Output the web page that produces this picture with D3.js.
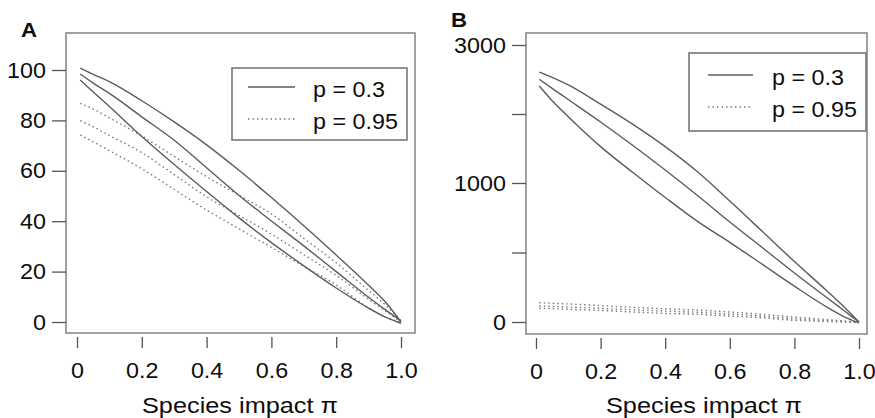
<!DOCTYPE html>
<html>
<head>
<meta charset="utf-8">
<script src="https://cdn.jsdelivr.net/npm/d3@7"></script>
<style>
  body { margin: 0; background: #fff; }
  text { font-family: "Liberation Sans", Arial, sans-serif; fill: #0d0d0d; }
</style>
</head>
<body>
<svg id="chart" width="875" height="418"></svg>
<script>
// species impact (x) shared by every curve
const impact = [0.01, 0.05, 0.1, 0.2, 0.3, 0.4, 0.5, 0.6, 0.7, 0.8, 0.9, 0.95, 1.0];

// panel A, p = 0.3 (solid)
const aHigh03 = [100.7, 98.3, 95.4, 87.8, 79.4, 70.3, 60.2, 49.4, 38.2, 26.6, 14.6, 8.2, 0];
const aMid03 = [98.4, 94.8, 90.7, 81.4, 72.1, 61.2, 50.2, 40.1, 30.2, 20, 9.8, 5, 0.5];
const aLow03 = [96, 91.3, 85.5, 73.6, 62.5, 51.8, 41.3, 31.5, 22.3, 13.5, 5.5, 2, -0.5];
// panel A, p = 0.95 (dotted)
const aHigh95 = [86.8, 84.5, 81, 73.8, 65.7, 57.7, 50.3, 42.9, 33.2, 23.5, 12.5, 7, 0.5];
const aMid95 = [79.9, 77.5, 74, 67.2, 58.5, 49.7, 42.3, 34.9, 26.7, 18.5, 9, 4.5, 0];
const aLow95 = [74.2, 71.5, 68, 60.8, 52.6, 44.4, 37, 29.6, 22.1, 14.7, 5.6, 2, 0];

// panel B, p = 0.3 (solid)
const bHigh03 = [2608, 2532, 2421, 2143, 1849, 1527, 1162, 870, 653, 435, 225, 117, 0];
const bMid03 = [2503, 2372, 2210, 1884, 1543, 1188, 910, 719, 536, 353, 176, 88, 0];
const bLow03 = [2406, 2193, 1961, 1527, 1152, 896, 724, 573, 416, 258, 108, 43, -7];
// panel B, p = 0.95 (dotted)
const bHigh95 = [139, 135, 130, 118, 106, 95, 86, 72, 55, 35, 18, 8, 0];
const bMid95 = [115, 112, 108, 98, 88, 78, 70, 57, 42, 22, 10, 4, -3];
const bLow95 = [99, 96, 92, 83, 72, 62, 55, 43, 30, 12, 4, 0, -5];

const xTicks = [0, 0.2, 0.4, 0.6, 0.8, 1.0];
const xTickLabels = ["0", "0.2", "0.4", "0.6", "0.8", "1.0"];
const yTicksA = [0, 20, 40, 60, 80, 100];
const yTickLabelsA = ["0", "20", "40", "60", "80", "100"];
const yTicksB = [0, 500, 1000, 2000, 3000];
const yTickLabelsB = ["0", "", "1000", "", "3000"];
const legendLabels = ["p = 0.3", "p = 0.95"];
const xTitle = "Species impact \u03c0";

const stretch = "scale(1.06,1)"; // the source text is a bit wide

const svg = d3.select("#chart");

const panels = [
  {
    letter: "A", letterX: 21, letterY: 37,
    box: { x0: 66, y0: 33, x1: 415, y1: 333 },
    x: d3.scaleLinear().domain([0, 1]).range([77, 401]),
    y: d3.scaleLinear().domain([0, 100]).range([322, 70]),
    yTicks: yTicksA, yLabels: yTickLabelsA,
    solid: [aHigh03, aMid03, aLow03],
    dotted: [aHigh95, aMid95, aLow95],
    legend: { x0: 232, y0: 68, x1: 407, y1: 140, lineX0: 248, lineX1: 295, textX: 313, rows: [87, 119] },
    titleX: 240
  },
  {
    letter: "B", letterX: 451, letterY: 27,
    box: { x0: 526, y0: 33, x1: 867, y1: 334 },
    x: d3.scaleLinear().domain([0, 1]).range([536, 859]),
    // axis labelled 0 / 1000 / 3000 with evenly spaced ticks
    y: d3.scaleLinear().domain([0, 1000, 3000]).range([322, 183, 45]),
    yTicks: yTicksB, yLabels: yTickLabelsB,
    solid: [bHigh03, bMid03, bLow03],
    dotted: [bHigh95, bMid95, bLow95],
    legend: { x0: 689, y0: 53, x1: 866, y1: 131, lineX0: 708, lineX1: 753, textX: 772, rows: [75, 107] },
    titleX: 704
  }
];

const solidStyle = { stroke: "#5c5c5c", width: 1.4, dash: null };
const dottedStyle = { stroke: "#7a7a7a", width: 1.4, dash: "1.5 3" };

panels.forEach(p => drawPanel(p));

function drawPanel(p) {
  const g = svg.append("g");
  const b = p.box;

  // curves
  const line = d3.line()
    .x((d, i) => p.x(impact[i]))
    .y(d => p.y(d))
    .curve(d3.curveMonotoneX);

  p.dotted.forEach(s => drawCurve(g, line, s, dottedStyle));
  p.solid.forEach(s => drawCurve(g, line, s, solidStyle));

  // frame
  g.append("rect")
    .attr("x", b.x0).attr("y", b.y0)
    .attr("width", b.x1 - b.x0).attr("height", b.y1 - b.y0)
    .attr("fill", "none").attr("stroke", "#8a8a8a").attr("stroke-width", 1.6);

  // y axis
  const yAxis = g.append("g")
    .attr("transform", `translate(${b.x0},0)`)
    .call(d3.axisLeft(p.y).tickValues(p.yTicks)
      .tickFormat((d, i) => p.yLabels[i]).tickSize(14).tickPadding(5));
  styleAxis(yAxis);

  // x axis (ticks only, sitting just under the frame)
  const xAxis = g.append("g")
    .attr("transform", `translate(0,${b.y1 + 4})`)
    .call(d3.axisBottom(p.x).tickValues(xTicks)
      .tickFormat((d, i) => xTickLabels[i]).tickSize(11).tickPadding(14));
  styleAxis(xAxis);

  g.append("text")
    .attr("x", p.titleX).attr("y", 413)
    .attr("text-anchor", "middle")
    .attr("font-size", 22)
    .attr("textLength", 196).attr("lengthAdjust", "spacingAndGlyphs")
    .text(xTitle);

  g.append("text")
    .attr("transform", `translate(${p.letterX},${p.letterY}) ${stretch}`)
    .attr("font-size", 21).attr("font-weight", "bold")
    .text(p.letter);

  drawLegend(g, p.legend);
}

function drawCurve(g, line, series, st) {
  g.append("path")
    .attr("d", line(series))
    .attr("fill", "none")
    .attr("stroke", st.stroke)
    .attr("stroke-width", st.width)
    .attr("stroke-dasharray", st.dash);
}

function styleAxis(axis) {
  axis.attr("font-size", null).attr("font-family", null);
  axis.select(".domain").remove();
  axis.selectAll(".tick line").attr("stroke", "#555").attr("stroke-width", 1.3);
  axis.selectAll(".tick text")
    .attr("font-size", 22)
    .attr("fill", "#0d0d0d")
    .attr("transform", stretch);
}

function drawLegend(g, L) {
  g.append("rect")
    .attr("x", L.x0).attr("y", L.y0)
    .attr("width", L.x1 - L.x0).attr("height", L.y1 - L.y0)
    .attr("fill", "#fff").attr("stroke", "#777").attr("stroke-width", 1.6);

  [solidStyle, dottedStyle].forEach((st, i) => {
    const yy = L.rows[i];
    g.append("line")
      .attr("x1", L.lineX0).attr("x2", L.lineX1)
      .attr("y1", yy).attr("y2", yy)
      .attr("stroke", st.stroke).attr("stroke-width", st.width)
      .attr("stroke-dasharray", st.dash);
    g.append("text")
      .attr("transform", `translate(${L.textX},${yy + 9.5}) ${stretch}`)
      .attr("font-size", 22)
      .text(legendLabels[i]);
  });
}
</script>
</body>
</html>
